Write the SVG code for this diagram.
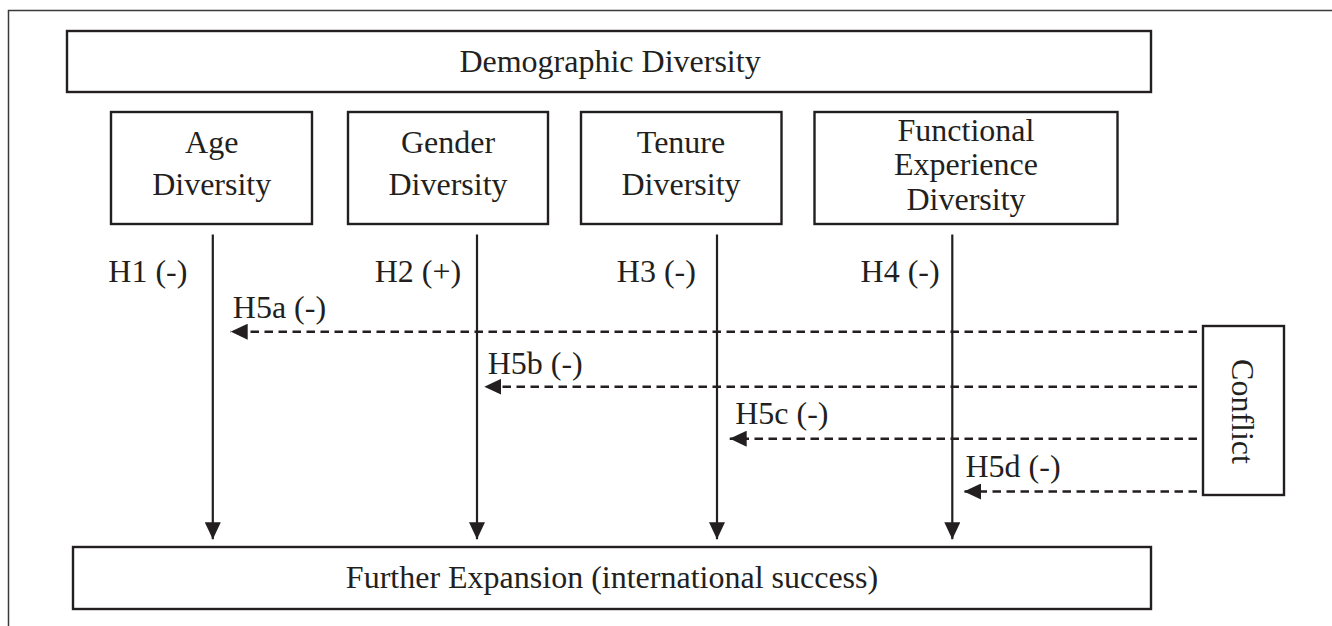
<svg xmlns="http://www.w3.org/2000/svg" width="1332" height="626" viewBox="0 0 1332 626">
<defs>
<style>
.box{fill:#fff;stroke:#231f20;stroke-width:2.4}
.t{font-family:"Liberation Serif","Times New Roman",serif;font-size:32px;fill:#231f20}
.m{text-anchor:middle}
.solid{stroke:#231f20;stroke-width:2.2;fill:none}
.dash{stroke:#231f20;stroke-width:2.4;fill:none;stroke-dasharray:8.5 5.5}
</style>
<marker id="ah" markerUnits="userSpaceOnUse" markerWidth="17" markerHeight="16" refX="17" refY="8" orient="auto">
<path d="M0,0 L17,8 L0,16 z" fill="#231f20"/>
</marker>
</defs>
<rect width="1332" height="626" fill="#fff"/>
<rect x="8.5" y="10.5" width="1400" height="700" fill="none" stroke="#3a3a3a" stroke-width="1.5"/>

<g id="demographic">
<rect class="box" x="67" y="31" width="1084" height="61"/>
<text class="t m" x="610" y="72">Demographic Diversity</text>
</g>
<g id="age">
<rect class="box" x="111" y="112" width="201" height="112"/>
<text class="t m" x="211.7" y="153">Age</text>
<text class="t m" x="211.7" y="195">Diversity</text>
</g>
<g id="gender">
<rect class="box" x="348" y="112" width="200" height="112"/>
<text class="t m" x="448" y="153">Gender</text>
<text class="t m" x="448" y="195">Diversity</text>
</g>
<g id="tenure">
<rect class="box" x="581" y="112" width="200.5" height="112"/>
<text class="t m" x="681" y="153">Tenure</text>
<text class="t m" x="681" y="195">Diversity</text>
</g>
<g id="functional">
<rect class="box" x="814.5" y="112" width="303" height="112"/>
<text class="t m" x="966" y="141">Functional</text>
<text class="t m" x="966" y="174.5">Experience</text>
<text class="t m" x="966" y="210">Diversity</text>
</g>
<g id="conflict">
<rect class="box" x="1203" y="326" width="81" height="169"/>
<text class="t m" transform="translate(1232,411.5) rotate(90)" x="0" y="0">Conflict</text>
</g>
<g id="expansion">
<rect class="box" x="73" y="547" width="1078" height="62"/>
<text class="t m" x="612" y="588">Further Expansion (international success)</text>
</g>

<g id="connectors">
<line class="solid" x1="212.8" y1="234.5" x2="212.8" y2="539.3" marker-end="url(#ah)"/>
<line class="solid" x1="477" y1="234.5" x2="477" y2="539.3" marker-end="url(#ah)"/>
<line class="solid" x1="717" y1="234.5" x2="717" y2="539.3" marker-end="url(#ah)"/>
<line class="solid" x1="952.3" y1="234.5" x2="952.3" y2="539.3" marker-end="url(#ah)"/>
<line class="dash" x1="1197" y1="331.7" x2="230.7" y2="331.7" marker-end="url(#ah)"/>
<line class="dash" x1="1197" y1="386.7" x2="484.3" y2="386.7" marker-end="url(#ah)"/>
<line class="dash" x1="1197" y1="438.7" x2="729.7" y2="438.7" marker-end="url(#ah)"/>
<line class="dash" x1="1197" y1="491.5" x2="964" y2="491.5" marker-end="url(#ah)"/>
</g>

<g id="labels">
<text class="t" x="108.3" y="282">H1 (-)</text>
<text class="t" x="374.7" y="282">H2 (+)</text>
<text class="t" x="616.8" y="282">H3 (-)</text>
<text class="t" x="860.6" y="282">H4 (-)</text>
<text class="t" x="232.8" y="318">H5a (-)</text>
<text class="t" x="487.7" y="374">H5b (-)</text>
<text class="t" x="735.2" y="424">H5c (-)</text>
<text class="t" x="965.5" y="476.7">H5d (-)</text>
</g>
</svg>
